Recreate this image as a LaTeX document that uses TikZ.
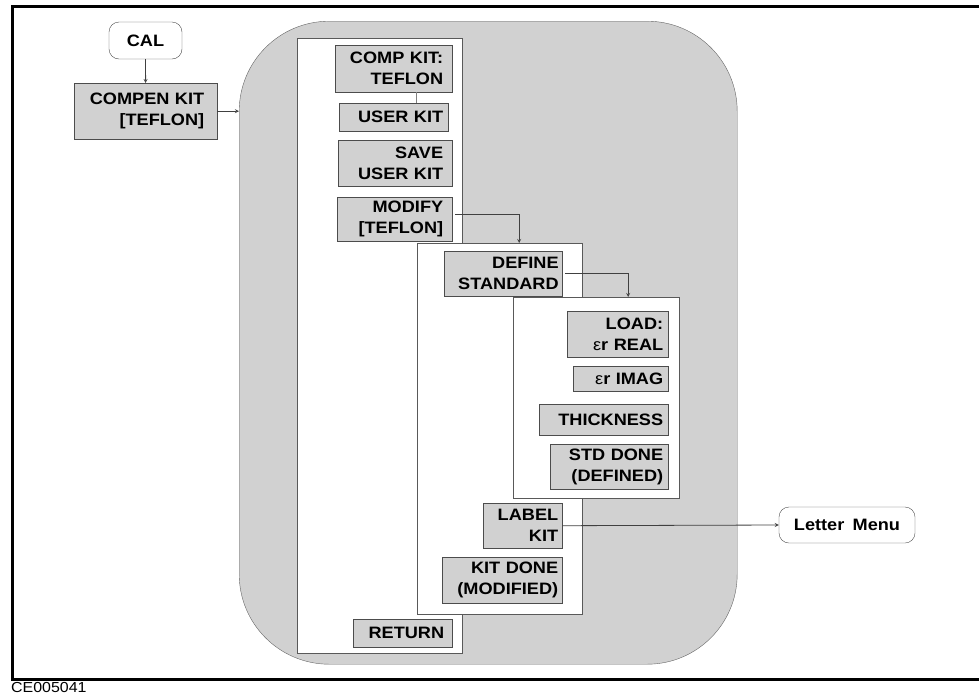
\documentclass[tikz,border=0pt]{standalone}
\usepackage{fontspec}
\setmainfont{Liberation Sans}[FakeStretch=1.1]
\usetikzlibrary{arrows,positioning,calc}

\begin{document}
\begin{tikzpicture}[
    x=1pt, y=-1pt,
    >=stealth,
    font=\fontsize{16.5}{21}\selectfont\bfseries,
    menu/.style={rectangle, rounded corners=90pt, draw=black!60, fill=black!18, anchor=north west, inner sep=0pt},
    panel/.style={rectangle, draw=black!65, fill=white, anchor=north west, inner sep=0pt},
    skey/.style={rectangle, draw=black!70, fill=black!18, anchor=north west, align=right, inner ysep=0pt},
    term/.style={rectangle, rounded corners=10pt, draw=black!70, fill=white, inner sep=0pt},
    link/.style={draw=black!75, line width=0.8pt}
]
    \useasboundingbox (0,0) rectangle (979,694);

    % Frame
    \draw[line width=3pt] (979,6) -- (12,6) -- (12,679) -- (979,679);
    \node[anchor=north west, inner sep=0pt, font=\fontsize{14.5}{14.5}\selectfont] (fig) at (11,682) {CE005041};

    % Entry
    \node[term, minimum width=73pt, minimum height=37pt] (cal) at (145.5,40.5) {CAL};
    \node[skey, inner xsep=13pt, text width=117pt, minimum height=56pt] (compen) at (74,83) {COMPEN KIT\\{[TEFLON]}};

    % Softkey menu
    \node[menu, minimum width=498pt, minimum height=643pt] (menu) at (239,21) {};

    % First level
    \node[panel, minimum width=165pt, minimum height=615pt] (panel1) at (297,38) {};
    \node[skey, inner xsep=9pt, text width=99pt, minimum height=47pt] (compkit) at (335,45) {COMP KIT:\\TEFLON};
    \node[skey, inner xsep=5pt, text width=99pt, minimum height=28pt] (userkit) at (339,103) {USER KIT};
    \node[skey, inner xsep=9pt, text width=96pt, minimum height=46pt] (save) at (338,140) {SAVE\\USER KIT};
    \node[skey, inner xsep=9pt, text width=97pt, minimum height=44pt] (modify) at (337,197) {MODIFY\\{[TEFLON]}};
    \node[skey, inner xsep=8pt, text width=83pt, minimum height=28pt] (return) at (353,619) {RETURN};

    % Second level
    \node[panel, minimum width=165pt, minimum height=371pt] (panel2) at (417,243) {};
    \node[skey, inner xsep=3.5pt, text width=111pt, minimum height=45pt] (define) at (444,251) {DEFINE\\STANDARD};
    \node[skey, inner xsep=4pt, text width=71pt, minimum height=45pt] (label) at (483,503) {LABEL\\KIT};
    \node[skey, inner xsep=4pt, text width=112pt, minimum height=46pt] (kitdone) at (442,557) {KIT DONE\\(MODIFIED)};

    % Third level
    \node[panel, minimum width=166pt, minimum height=201pt] (panel3) at (513,297) {};
    \node[skey, inner xsep=5pt, text width=91pt, minimum height=46pt] (load) at (567,311) {LOAD:\\{\mdseries ε}r REAL};
    \node[skey, inner xsep=5pt, text width=85pt, minimum height=25pt] (imag) at (573,366) {{\mdseries ε}r IMAG};
    \node[skey, inner xsep=5pt, text width=119pt, minimum height=31pt] (thick) at (539,404) {THICKNESS};
    \node[skey, inner xsep=5pt, text width=108pt, minimum height=45pt] (stddone) at (550,444) {STD DONE\\(DEFINED)};

    % Exit
    \node[term, minimum width=136pt, minimum height=36pt] (letter) at (847,525) {Letter\enspace Menu};

    % Arrows
    \draw[link, ->] (cal) -- (compen);
    \draw[link, ->] (compen.east) -- (compen.east -| menu.west);
    \draw[draw=black!50, line width=0.8pt] ([xshift=22.5pt]compkit.south) -- ([xshift=22.5pt]userkit.north);
    \draw[link, ->] ([xshift=3pt, yshift=5pt]modify.east) -| ([xshift=19.5pt]panel2.north);
    \draw[link, ->] ([xshift=3pt]define.east) -| ([xshift=32pt]panel3.north);
    \draw[link, ->] (label.east) -- (letter.west);
\end{tikzpicture}
\end{document}
